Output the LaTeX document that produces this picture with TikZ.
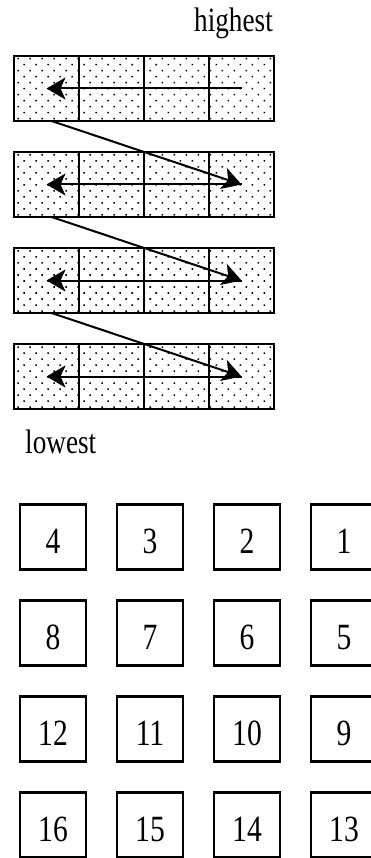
\documentclass[tikz,border=0pt]{standalone}
\usepackage{fontspec}
\setmainfont[FakeStretch=0.8]{Liberation Serif}
\usetikzlibrary{positioning,arrows.meta,patterns.meta}
\tikzstyle{cell}=[rectangle,draw,line width=2.2pt,outer sep=0pt,inner sep=0pt,minimum width=65pt,minimum height=65pt,pattern={Dots[distance=8.5pt,angle=45,radius=1.1pt]}]
\tikzstyle{slot}=[rectangle,draw,line width=2.2pt,outer sep=0pt,inner sep=0pt,minimum width=66pt,minimum height=65pt,text height=33pt,text depth=0pt,font=\fontsize{37}{37}\selectfont]
\tikzstyle{tag}=[inner sep=0pt,font=\fontsize{34}{34}\selectfont]
\tikzstyle{scan}=[-{Stealth[length=19pt,width=22pt,inset=5pt]},line width=2pt]

\begin{document}
\begin{tikzpicture}[x=1pt,y=-1pt,node distance=31pt]
\useasboundingbox (0,0) rectangle (371,858);
% row-major strips
\node[tag, anchor=base east] (hi) at (273,32) {highest};
\node[cell] (s1a) at (46.5,88.5) {};
\node[cell, right=0pt of s1a] (s1b) {};
\node[cell, right=0pt of s1b] (s1c) {};
\node[cell, right=0pt of s1c] (s1d) {};
\node[cell, below=of s1a] (s2a) {};
\node[cell, right=0pt of s2a] (s2b) {};
\node[cell, right=0pt of s2b] (s2c) {};
\node[cell, right=0pt of s2c] (s2d) {};
\node[cell, below=of s2a] (s3a) {};
\node[cell, right=0pt of s3a] (s3b) {};
\node[cell, right=0pt of s3b] (s3c) {};
\node[cell, right=0pt of s3c] (s3d) {};
\node[cell, below=of s3a] (s4a) {};
\node[cell, right=0pt of s4a] (s4b) {};
\node[cell, right=0pt of s4b] (s4c) {};
\node[cell, right=0pt of s4c] (s4d) {};
\node[tag, anchor=base west] (lo) at (25,453) {lowest};
\draw[scan] (s1d.center) -- (s1a.center);
\draw[scan] (s2d.center) -- (s2a.center);
\draw[scan] (s3d.center) -- (s3a.center);
\draw[scan] (s4d.center) -- (s4a.center);
\draw[scan] ([xshift=5pt]s1a.south) -- (s2d.center);
\draw[scan] ([xshift=5pt]s2a.south) -- (s3d.center);
\draw[scan] ([xshift=5pt]s3a.south) -- (s4d.center);
% numbered slots
\node[slot] (b4) at (53,537) {4};
\node[slot, right=of b4] (b3) {3};
\node[slot, right=of b3] (b2) {2};
\node[slot, right=of b2] (b1) {1};
\node[slot, below=of b4] (b8) {8};
\node[slot, right=of b8] (b7) {7};
\node[slot, right=of b7] (b6) {6};
\node[slot, right=of b6] (b5) {5};
\node[slot, below=of b8] (b12) {12};
\node[slot, right=of b12] (b11) {11};
\node[slot, right=of b11] (b10) {10};
\node[slot, right=of b10] (b9) {9};
\node[slot, below=of b12] (b16) {16};
\node[slot, right=of b16] (b15) {15};
\node[slot, right=of b15] (b14) {14};
\node[slot, right=of b14] (b13) {13};
\end{tikzpicture}
\end{document}
